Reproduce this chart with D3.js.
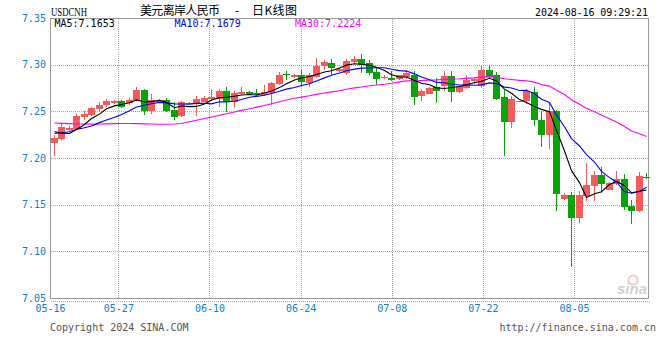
<!DOCTYPE html>
<head>
<meta charset="utf-8">
<title>USDCNH daily K</title>
<style>
body { margin: 0; background: #fff; }
</style>
</head>
<div id="container"></div>
<script src="https://d3js.org/d3.v7.min.js"></script>
<script>
// Trading days (Mon-Sat bars), 2024
const dates = [
  "05-16","05-17","05-18",
  "05-20","05-21","05-22","05-23","05-24","05-25",
  "05-27","05-28","05-29","05-30","05-31","06-01",
  "06-03","06-04","06-05","06-06","06-07","06-08",
  "06-10","06-11","06-12","06-13","06-14","06-15",
  "06-17","06-18","06-19","06-20","06-21","06-22",
  "06-24","06-25","06-26","06-27","06-28","06-29",
  "07-01","07-02","07-03","07-04","07-05","07-06",
  "07-08","07-09","07-10","07-11","07-12","07-13",
  "07-15","07-16","07-17","07-18","07-19","07-20",
  "07-22","07-23","07-24","07-25","07-26","07-27",
  "07-29","07-30","07-31","08-01","08-02","08-03",
  "08-05","08-06","08-07","08-08","08-09","08-10",
  "08-12","08-13","08-14","08-15","08-16"
];

const open = [
  7.2166,7.2208,7.2296,7.2307,7.2444,7.2461,7.2525,7.2571,7.2588,7.2613,
  7.2585,7.2620,7.2729,7.2507,7.2602,7.2620,7.2514,7.2447,7.2585,7.2574,
  7.2602,7.2630,7.2637,7.2718,7.2595,7.2683,7.2708,7.2694,7.2680,7.2701,
  7.2789,7.2896,7.2866,7.2894,7.2806,7.2866,7.2982,7.3018,7.2930,7.2912,
  7.3028,7.3063,7.3018,7.2919,7.2869,7.2859,7.2842,7.2869,7.2894,7.2659,
  7.2683,7.2761,7.2771,7.2877,7.2708,7.2754,7.2824,7.2771,7.2947,7.2884,
  7.2655,7.2391,7.2603,7.2613,7.2708,7.2409,7.2243,7.2507,7.1560,7.1602,
  7.1356,7.1592,7.1697,7.1813,7.1662,7.1718,7.1778,7.1486,7.1433,7.1799
];
const high = [
  7.2250,7.2363,7.2338,7.2472,7.2507,7.2549,7.2602,7.2637,7.2620,7.2620,
  7.2648,7.2764,7.2740,7.2683,7.2630,7.2641,7.2602,7.2613,7.2595,7.2659,
  7.2659,7.2736,7.2736,7.2761,7.2718,7.2761,7.2718,7.2736,7.2782,7.2813,
  7.2923,7.2930,7.2898,7.2947,7.2912,7.3070,7.3046,7.3063,7.2965,7.3060,
  7.3095,7.3116,7.3046,7.2965,7.2894,7.2930,7.2894,7.2947,7.2930,7.2736,
  7.2761,7.2859,7.2930,7.2930,7.2775,7.2884,7.2866,7.2982,7.2982,7.2919,
  7.2729,7.2666,7.2613,7.2743,7.2764,7.2507,7.2585,7.2514,7.1620,7.1637,
  7.1644,7.1947,7.1856,7.1901,7.1740,7.1866,7.1831,7.1549,7.1849,7.1842
];
const low = [
  7.2025,7.2197,7.2292,7.2303,7.2402,7.2447,7.2490,7.2542,7.2578,7.2532,
  7.2571,7.2609,7.2465,7.2472,7.2595,7.2497,7.2402,7.2437,7.2578,7.2454,
  7.2595,7.2616,7.2549,7.2497,7.2532,7.2673,7.2673,7.2666,7.2666,7.2567,
  7.2778,7.2835,7.2862,7.2764,7.2764,7.2859,7.2940,7.2894,7.2919,7.2894,
  7.3018,7.2912,7.2894,7.2778,7.2842,7.2824,7.2835,7.2842,7.2567,7.2613,
  7.2683,7.2588,7.2718,7.2602,7.2701,7.2743,7.2789,7.2754,7.2842,7.2623,
  7.2025,7.2320,7.2596,7.2578,7.2342,7.2120,7.2095,7.1433,7.1553,7.0828,
  7.1303,7.1542,7.1542,7.1630,7.1660,7.1708,7.1444,7.1292,7.1419,7.1778
];
const close = [
  7.2219,7.2335,7.2317,7.2454,7.2472,7.2535,7.2571,7.2609,7.2606,7.2549,
  7.2620,7.2729,7.2500,7.2620,7.2620,7.2507,7.2444,7.2595,7.2588,7.2630,
  7.2641,7.2655,7.2718,7.2602,7.2694,7.2704,7.2683,7.2690,7.2708,7.2806,
  7.2884,7.2892,7.2894,7.2813,7.2884,7.2989,7.3025,7.2965,7.2954,7.3042,
  7.3063,7.3000,7.2912,7.2842,7.2873,7.2831,7.2884,7.2912,7.2655,7.2718,
  7.2754,7.2718,7.2877,7.2708,7.2771,7.2835,7.2849,7.2947,7.2870,7.2630,
  7.2391,7.2630,7.2606,7.2718,7.2409,7.2243,7.2507,7.1613,7.1602,7.1356,
  7.1602,7.1708,7.1813,7.1718,7.1736,7.1778,7.1472,7.1433,7.1803,7.1796
];

// MA values on the first bars (need history before 05-16)
const ma5Seed = [7.2283,7.2266,7.2262,7.2305];
const ma10Seed = [7.2264,7.2271,7.2282,7.2307,7.2325,7.2343,7.2379,7.2407,7.2436];
const ma30Seed = [
  7.2375,7.2371,7.2368,7.2365,7.2364,7.2363,7.2364,7.2366,7.2368,7.2369,
  7.2369,7.2368,7.2366,7.2364,7.2362,7.2362,7.2364,7.2370,7.2388,7.2405,
  7.2423,7.2440,7.2458,7.2475,7.2493,7.2510,7.2528,7.2545,7.2563
];

const yTicks = [7.05, 7.10, 7.15, 7.20, 7.25, 7.30, 7.35];
const xLabels = ["05-16","05-27","06-10","06-24","07-08","07-22","08-05"];
const legend = [
  {text: "MA5:7.1653", color: "#000000"},
  {text: "MA10:7.1679", color: "#0000ff"},
  {text: "MA30:7.2224", color: "#ff00ff"}
];

const width = 660;
const height = 360;
const marginTop = 18;
const marginRight = 11;
const marginBottom = 62;
const marginLeft = 50;

const mono = "'DejaVu Sans Mono', monospace";
const labelBlue = "#0b80d0";
const upColor = "#f65b5b";
const downColor = "#09a309";

// Scales: bars sit in bands, grid lines/labels on points
const x = d3.scaleBand()
    .domain(dates)
    .range([marginLeft, width - marginRight + 1])
    .paddingInner(0.2)
    .paddingOuter(0.1);
const xGrid = d3.scalePoint()
    .domain(dates)
    .range([marginLeft, width - marginRight + 1]);
const y = d3.scaleLinear()
    .domain([7.05, 7.35])
    .range([height - marginBottom, marginTop]);

const bars = dates.map((d, i) => ({date: d, o: open[i], h: high[i], l: low[i], c: close[i]}));

function movingAvg(n, seed) {
  return close.map((c, i) => i >= n - 1 ? d3.mean(close.slice(i - n + 1, i + 1)) : seed[i]);
}
const ma5 = movingAvg(5, ma5Seed);
const ma10 = movingAvg(10, ma10Seed);
const ma30 = movingAvg(30, ma30Seed);

const svg = d3.create("svg")
    .attr("width", width)
    .attr("height", height)
    .style("background", "#fff");

const x0 = marginLeft + 0.5, x1 = width - marginRight - 0.5;
const yTop = y(7.35) + 0.5, yBot = y(7.05) + 0.5;

// Dotted grid
const grid = svg.append("g")
    .attr("stroke", "#a8a8a8")
    .attr("stroke-dasharray", "1,1")
    .attr("shape-rendering", "crispEdges");
grid.selectAll(".hg")
  .data(yTicks.filter(t => t > 7.05 && t < 7.35))
  .join("line")
    .attr("x1", x0).attr("x2", x1)
    .attr("y1", d => Math.round(y(d)) + 0.5)
    .attr("y2", d => Math.round(y(d)) + 0.5);
grid.selectAll(".vg")
  .data(xLabels.slice(1))
  .join("line")
    .attr("x1", d => Math.round(xGrid(d)) + 0.5)
    .attr("x2", d => Math.round(xGrid(d)) + 0.5)
    .attr("y1", yTop).attr("y2", yBot);
grid.append("line")
    .attr("x1", x0).attr("x2", x1 + 1)
    .attr("y1", yBot + 3).attr("y2", yBot + 3);

// Frame
svg.append("rect")
    .attr("x", x0).attr("y", yTop)
    .attr("width", x1 - x0).attr("height", yBot - yTop)
    .attr("fill", "none")
    .attr("stroke", "#9a9a9a")
    .attr("shape-rendering", "crispEdges");

// Y axis labels
svg.append("g")
    .attr("transform", `translate(${marginLeft},0)`)
    .call(d3.axisLeft(y).tickValues(yTicks).tickSize(0).tickPadding(4).tickFormat(d3.format(".2f")))
    .call(g => g.select(".domain").remove())
    .call(g => g.selectAll("text")
        .attr("fill", labelBlue)
        .attr("font-family", mono)
        .attr("font-size", 10));

// X axis labels
svg.append("g")
    .attr("transform", `translate(0,${height - marginBottom})`)
    .call(d3.axisBottom(xGrid).tickValues(xLabels).tickSize(0))
    .call(g => g.select(".domain").remove())
    .call(g => g.selectAll("text")
        .attr("y", 14)
        .attr("dy", 0)
        .attr("fill", labelBlue)
        .attr("font-family", mono)
        .attr("font-size", 10));

// Candles
const candle = svg.append("g")
    .attr("shape-rendering", "crispEdges")
  .selectAll("g")
  .data(bars)
  .join("g")
    .attr("fill", d => d.c >= d.o ? upColor : downColor)
    .attr("stroke", d => d.c >= d.o ? upColor : downColor);

candle.append("line")
    .attr("x1", d => Math.round(x(d.date)) + 3.5)
    .attr("x2", d => Math.round(x(d.date)) + 3.5)
    .attr("y1", d => y(d.h))
    .attr("y2", d => y(d.l));

candle.append("rect")
    .attr("stroke", "none")
    .attr("x", d => Math.round(x(d.date)))
    .attr("width", Math.round(x.bandwidth()) + 1)
    .attr("y", d => y(Math.max(d.o, d.c)))
    .attr("height", d => Math.max(1, Math.abs(y(d.o) - y(d.c))));

// MA lines
const line = d3.line()
    .x((d, i) => Math.round(x(dates[i])) + 3.5)
    .y(d => y(d));
[[ma30, "#ff00ff"], [ma10, "#0000ff"], [ma5, "#000000"]].forEach(([s, col]) => {
  svg.append("path")
      .attr("fill", "none")
      .attr("stroke", col)
      .attr("stroke-width", 1.1)
      .attr("d", line(s));
});

// Titles
svg.append("text")
    .attr("x", 51).attr("y", 16)
    .attr("font-family", "'Liberation Serif', serif")
    .attr("font-size", 12)
    .attr("textLength", 36)
    .attr("lengthAdjust", "spacingAndGlyphs")
    .text("USDCNH");
const cjk = "'Noto Sans CJK SC', sans-serif";
svg.append("text")
    .attr("x", 140).attr("y", 15)
    .attr("font-family", cjk).attr("font-size", 12)
    .attr("textLength", 80)
    .text("美元离岸人民币");
svg.append("text")
    .attr("x", 235).attr("y", 15)
    .attr("font-family", cjk).attr("font-size", 12)
    .text("-");
svg.append("text")
    .attr("x", 252).attr("y", 15)
    .attr("font-family", cjk).attr("font-size", 12)
    .attr("textLength", 45)
    .text("日K线图");
svg.append("text")
    .attr("x", 648).attr("y", 16)
    .attr("text-anchor", "end")
    .attr("font-family", mono).attr("font-size", 10)
    .attr("textLength", 113)
    .text("2024-08-16 09:29:21");

// Legend
svg.append("g")
  .selectAll("text")
  .data(legend)
  .join("text")
    .attr("x", (d, i) => [54.5, 174.5, 295][i])
    .attr("y", 27)
    .attr("fill", d => d.color)
    .attr("font-family", mono)
    .attr("font-size", 10)
    .text(d => d.text);

// Watermark
const wm = svg.append("g").attr("opacity", 0.45);
wm.append("circle")
    .attr("cx", 633).attr("cy", 280).attr("r", 4.5)
    .attr("fill", "none").attr("stroke", "#e88").attr("stroke-width", 2);
wm.append("text")
    .attr("x", 617).attr("y", 294)
    .attr("font-family", "'Liberation Sans', sans-serif")
    .attr("font-weight", "bold").attr("font-style", "italic")
    .attr("font-size", 15).attr("fill", "#999")
    .text("sina");

// Footer
svg.append("text")
    .attr("x", 50).attr("y", 331)
    .attr("fill", "#555")
    .attr("font-family", mono).attr("font-size", 10)
    .text("Copyright 2024 SINA.COM");
svg.append("text")
    .attr("x", 656).attr("y", 331)
    .attr("text-anchor", "end")
    .attr("fill", "#555")
    .attr("font-family", mono).attr("font-size", 10)
    .text("http://finance.sina.com.cn");

container.append(svg.node());
</script>
